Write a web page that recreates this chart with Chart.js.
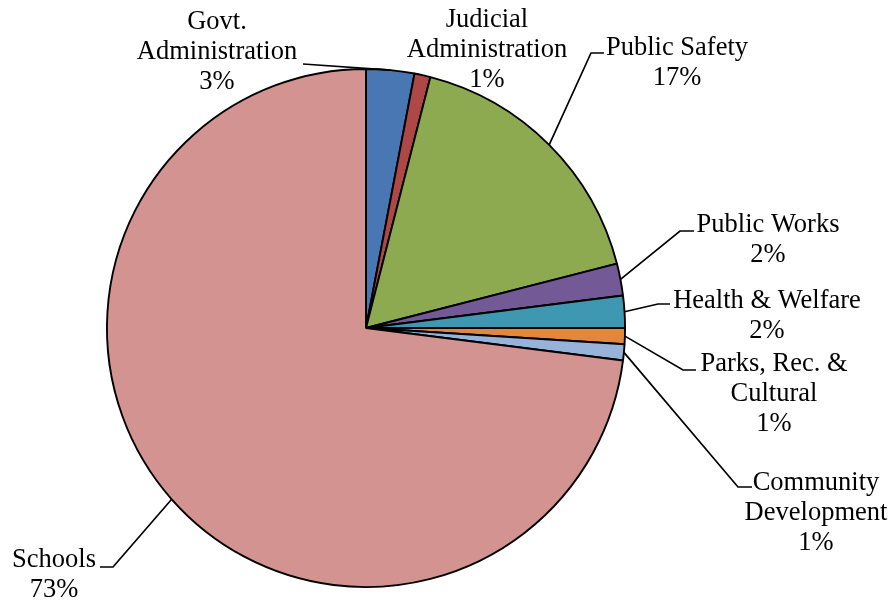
<!DOCTYPE html>
<html>
<head>
<meta charset="utf-8">
<script src="https://cdn.jsdelivr.net/npm/chart.js@4/dist/chart.umd.min.js"></script>
<style>
  html, body { margin: 0; padding: 0; background: #fff; }
  #wrap { width: 893px; height: 601px; position: relative; }
</style>
</head>
<body>
<div id="wrap"><canvas id="pie" width="893" height="601"></canvas></div>
<script>
// Expenditure shares by function (percent of total)
const categories = [
  ['Govt.', 'Administration'],
  ['Judicial', 'Administration'],
  ['Public Safety'],
  ['Public Works'],
  ['Health & Welfare'],
  ['Parks, Rec. &', 'Cultural'],
  ['Community', 'Development'],
  ['Schools']
];
const shares = [3, 1, 17, 2, 2, 1, 1, 73];
const sliceColors = ['#4877B3', '#AE4846', '#8EAA50', '#735996', '#3E98B2', '#E2873E', '#97B3D9', '#D29391'];

// Label placement: text centre x, first-line y, and the leader elbow (null = no leader)
const labelLayout = [
  { x: 217, y: 22, elbow: [303, 64], tail: 0 },
  { x: 487, y: 20, elbow: null },
  { x: 677, y: 48, elbow: [591, 53], tail: 13 },
  { x: 768, y: 225, elbow: [680, 231], tail: 14 },
  { x: 767, y: 301, elbow: [658, 304], tail: 12 },
  { x: 774, y: 364, elbow: [683, 370], tail: 13 },
  { x: 816, y: 483, elbow: [738, 487], tail: 14 },
  { x: 54, y: 560, elbow: [113, 567], tail: -13 }
];

const FONT = '26.5px "Liberation Serif"';
const LINE_H = 30;

const pieLabels = {
  id: 'pieLabels',
  afterDatasetsDraw(chart) {
    const ctx = chart.ctx;
    const arcs = chart.getDatasetMeta(0).data;
    ctx.save();
    ctx.strokeStyle = '#000';
    ctx.lineWidth = 1.7;
    arcs.forEach((arc, i) => {
      const lay = labelLayout[i];
      if (lay.elbow) {
        const mid = (arc.startAngle + arc.endAngle) / 2;
        const ax = arc.x + Math.cos(mid) * arc.outerRadius;
        const ay = arc.y + Math.sin(mid) * arc.outerRadius;
        ctx.beginPath();
        ctx.moveTo(ax, ay);
        ctx.lineTo(lay.elbow[0], lay.elbow[1]);
        if (lay.tail) ctx.lineTo(lay.elbow[0] + lay.tail, lay.elbow[1]);
        ctx.stroke();
      }
      const lines = categories[i].concat([shares[i] + '%']);
      ctx.fillStyle = '#000';
      ctx.font = FONT;
      ctx.textAlign = 'center';
      ctx.textBaseline = 'middle';
      lines.forEach((t, k) => ctx.fillText(t, lay.x, lay.y + k * LINE_H));
    });
    ctx.restore();
  }
};

function draw() {
  new Chart(document.getElementById('pie'), {
    type: 'pie',
    data: {
      labels: categories.map(c => c.join(' ')),
      datasets: [{
        data: shares,
        backgroundColor: sliceColors,
        borderColor: '#000',
        borderWidth: 1.9
      }]
    },
    options: {
      responsive: false,
      animation: false,
      layout: { padding: { left: 106, right: 267, top: 68, bottom: 13 } },
      plugins: {
        legend: { display: false },
        tooltip: { enabled: false }
      }
    },
    plugins: [pieLabels]
  });
}

document.fonts.load(FONT, 'Administration 0123456789%').then(draw, draw);
</script>
</body>
</html>
